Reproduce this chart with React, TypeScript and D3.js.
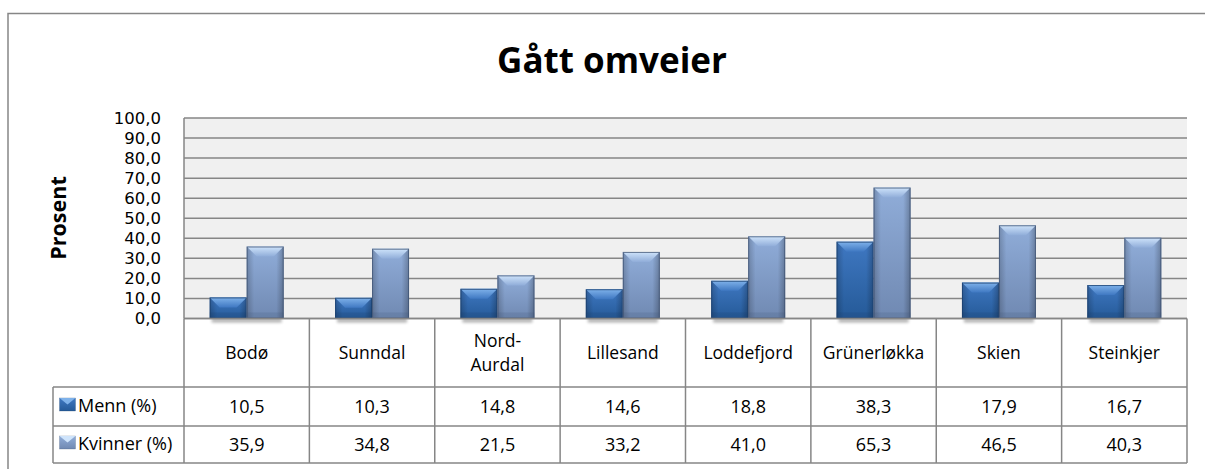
import React from 'react';
import * as d3 from 'd3';

const places = ['Bodø', 'Sunndal', 'Nord-Aurdal', 'Lillesand', 'Loddefjord', 'Grünerløkka', 'Skien', 'Steinkjer'];
const menn = [10.5, 10.3, 14.8, 14.6, 18.8, 38.3, 17.9, 16.7];
const kvinner = [35.9, 34.8, 21.5, 33.2, 41.0, 65.3, 46.5, 40.3];
const seriesNames = ['Menn (%)', 'Kvinner (%)'];
const yTicks = [0, 10, 20, 30, 40, 50, 60, 70, 80, 90, 100];

const W = 1205;
const H = 469;
const FONT = '"Open Sans", sans-serif';
const TICK_FONT = '"DejaVu Sans", sans-serif';
const GRID = '#868686';
const fmt = (v: number) => v.toFixed(1).replace('.', ',');

const plot = { left: 184, right: 1187, top: 118, bottom: 318.5 };
const rows = [387, 426, 463];
const legendLeft = 53;

const x = d3.scaleBand<string>().domain(places).range([plot.left, plot.right]).paddingInner(0.41).paddingOuter(0.205);
const col = d3.scaleBand<string>().domain(places).range([plot.left, plot.right]);
const inner = d3.scaleBand<string>().domain(seriesNames).range([0, x.bandwidth()]);
const y = d3.scaleLinear().domain([0, 100]).range([plot.bottom, plot.top]);

const palette = [
  { id: 'm', top: '#7fb2ea', faceTop: '#3f78c2', faceLow: '#255a98', edge: '#1b3f6c' },
  { id: 'k', top: '#cfe4fb', faceTop: '#90add9', faceLow: '#7089b2', edge: '#3d5272' },
];

function Bar({ x0, w, v, p }: { x0: number; w: number; v: number; p: (typeof palette)[0] }) {
  const t = y(v);
  const b = plot.bottom;
  const x1 = x0 + w;
  const bev = Math.min(10, (b - t) / 2);
  const poly = (pts: number[][]) => pts.map((q) => q.join(',')).join(' ');
  return (
    <g>
      <rect x={x0} y={t} width={w} height={b - t} fill={`url(#face-${p.id})`} />
      <rect x={x0} y={t} width={w} height={b - t} fill="url(#edges)" />
      <polygon points={poly([[x0, t], [x1, t], [x1 - bev, t + bev], [x0 + bev, t + bev]])} fill={`url(#top-${p.id})`} />
      <rect x={x0} y={b - 6} width={w} height={6} fill={p.edge} opacity={0.18} />
      <rect x={x0 + 0.5} y={t + 0.5} width={w - 1} height={b - t - 1} fill="none" stroke={p.edge} strokeOpacity={0.75} />
    </g>
  );
}

function Swatch({ cx, cy, p }: { cx: number; cy: number; p: (typeof palette)[0] }) {
  return (
    <g>
      <rect x={cx - 8} y={cy - 6.5} width={16} height={13} fill={`url(#face-${p.id})`} stroke={p.edge} strokeOpacity={0.5} strokeWidth={0.5} />
      <polygon points={`${cx - 8},${cy - 6.5} ${cx + 8},${cy - 6.5} ${cx},${cy}`} fill={p.top} />
    </g>
  );
}

export default function App() {
  const series = [menn, kvinner];
  return (
    <svg width={W} height={H} style={{ position: 'absolute', left: 0, top: 0, fontFamily: FONT }}>
      <defs>
        <filter id="soft" x="-20%" y="-100%" width="140%" height="300%">
          <feGaussianBlur stdDeviation="1.5" />
        </filter>
        <linearGradient id="edges" x1="0" y1="0" x2="1" y2="0">
          <stop offset="0" stopColor="#000" stopOpacity={0.2} />
          <stop offset="0.2" stopColor="#000" stopOpacity={0} />
          <stop offset="0.8" stopColor="#000" stopOpacity={0} />
          <stop offset="1" stopColor="#000" stopOpacity={0.25} />
        </linearGradient>
        {palette.map((p) => (
          <React.Fragment key={p.id}>
            <linearGradient id={`face-${p.id}`} x1="0" y1="0" x2="0" y2="1">
              <stop offset="0" stopColor={p.faceTop} />
              <stop offset="1" stopColor={p.faceLow} />
            </linearGradient>
            <linearGradient id={`top-${p.id}`} x1="0" y1="0" x2="0" y2="1">
              <stop offset="0" stopColor={p.top} />
              <stop offset="1" stopColor={p.faceTop} />
            </linearGradient>
          </React.Fragment>
        ))}
      </defs>

      <rect width={W} height={H} fill="#fff" />
      {/* chart frame runs off the page on the right and at the bottom */}
      <path d={`M8,${H} V13.5 H${W}`} fill="none" stroke={GRID} strokeWidth={1.5} />

      <text x={612} y={73} textAnchor="middle" fontSize={35} fontWeight={700} fill="#000">Gått omveier</text>
      <text transform="translate(66,218) rotate(-90)" textAnchor="middle" fontSize={21.5} fontWeight={700} fill="#000">Prosent</text>

      <rect x={plot.left} y={plot.top} width={plot.right - plot.left} height={plot.bottom - plot.top} fill="#f0f0f0" />
      {yTicks.map((t) => (
        <g key={t}>
          <line x1={plot.left} x2={plot.right} y1={y(t)} y2={y(t)} stroke={GRID} strokeWidth={1.5} />
          <text x={161} y={y(t) + 5.5} textAnchor="end" fontSize={16.5} fontFamily={TICK_FONT} fill="#000">{fmt(t)}</text>
        </g>
      ))}
      <line x1={plot.left} x2={plot.left} y1={plot.top} y2={plot.bottom} stroke={GRID} strokeWidth={1.5} />

      {places.map((pl) => (
        <rect key={pl} x={(x(pl) as number) + 2} y={plot.bottom} width={x.bandwidth() - 4} height={4} fill="#000" opacity={0.3} filter="url(#soft)" />
      ))}
      {series.map((vals, si) =>
        vals.map((v, i) => (
          <Bar
            key={`${si}-${i}`}
            x0={(x(places[i]) as number) + (inner(seriesNames[si]) as number)}
            w={inner.bandwidth()}
            v={v}
            p={palette[si]}
          />
        )),
      )}

      {/* data table */}
      <g stroke={GRID} strokeWidth={1.5} fill="none">
        <path d={`M${legendLeft},${rows[0]} H${plot.right} M${legendLeft},${rows[1]} H${plot.right} M${legendLeft},${rows[2]} H${plot.right}`} />
        <path d={`M${legendLeft},${rows[0]} V${rows[2]}`} />
        <line x1={plot.left} x2={plot.right} y1={plot.bottom} y2={plot.bottom} />
        {[...places.map((pl) => col(pl) as number), plot.right].map((cx) => (
          <line key={cx} x1={cx} x2={cx} y1={plot.bottom} y2={rows[2]} />
        ))}
      </g>

      {places.map((pl) => {
        const cx = (col(pl) as number) + col.bandwidth() / 2;
        const parts = pl === 'Nord-Aurdal' ? ['Nord-', 'Aurdal'] : [pl];
        const midY = (plot.bottom + rows[0]) / 2 + 6;
        return (
          <text key={pl} textAnchor="middle" fontSize={17.5} fill="#000">
            {parts.map((s, i) => (
              <tspan key={s} x={cx} y={midY + (i - (parts.length - 1) / 2) * 24}>{s}</tspan>
            ))}
          </text>
        );
      })}

      {series.map((vals, si) => (
        <g key={si}>
          <Swatch cx={67.5} cy={(rows[si] + rows[si + 1]) / 2 - 2} p={palette[si]} />
          <text x={78} y={(rows[si] + rows[si + 1]) / 2 + 5} fontSize={18} fill="#000">{seriesNames[si]}</text>
          {vals.map((v, i) => (
            <text
              key={i}
              x={(col(places[i]) as number) + col.bandwidth() / 2}
              y={(rows[si] + rows[si + 1]) / 2 + 6}
              textAnchor="middle"
              fontSize={18}
              fill="#000"
            >
              {fmt(v)}
            </text>
          ))}
        </g>
      ))}
    </svg>
  );
}
